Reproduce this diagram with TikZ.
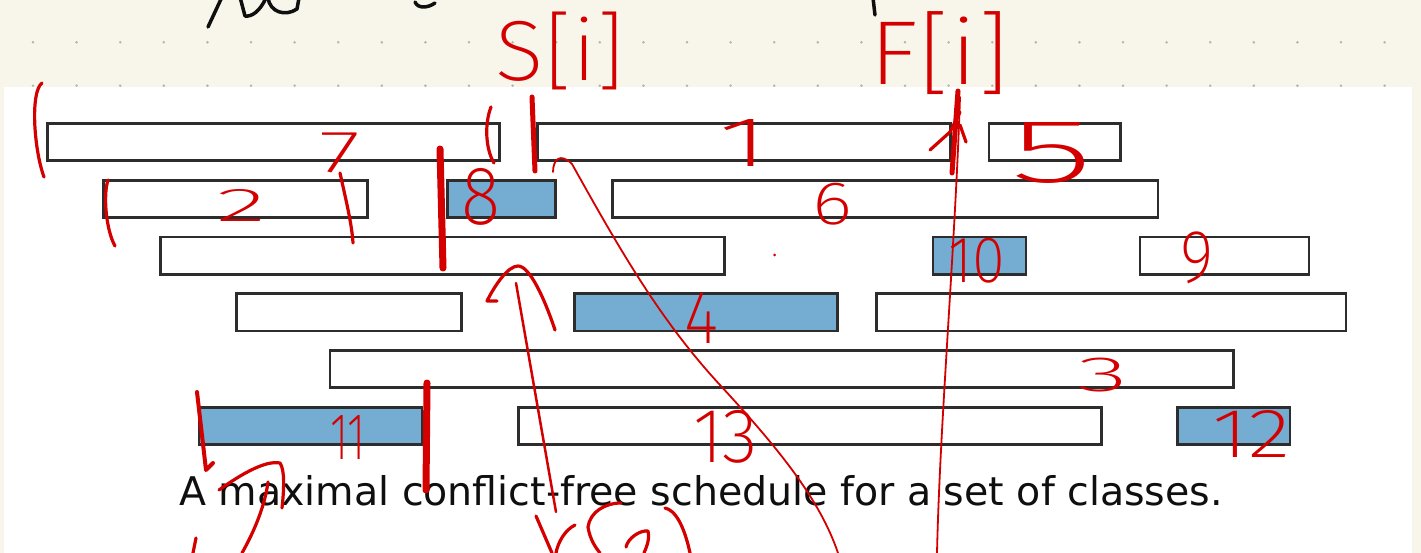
\documentclass[tikz,border=0pt]{standalone}
\usepackage{fontspec}
\setmainfont{DejaVu Sans}
\newfontfamily\hwfont{Fira Sans ExtraLight}
\definecolor{paper}{RGB}{248,246,234}
\definecolor{griddot}{RGB}{180,180,172}
\definecolor{barline}{RGB}{45,45,45}
\definecolor{barblue}{RGB}{116,172,210}
\definecolor{ink}{RGB}{212,0,0}
\definecolor{pen}{RGB}{15,15,15}
\tikzset{
  bar/.style={draw=barline, line width=2.8pt, fill=white},
  bluebar/.style={bar, fill=barblue},
  inkline/.style={draw=ink, line width=3.2pt, line cap=round, line join=round},
  inkthin/.style={draw=ink, line width=1.8pt, line cap=round, line join=round},
  inkthick/.style={draw=ink, line width=5pt, line cap=round, line join=round},
  inkfat/.style={draw=ink, line width=7pt, line cap=round, line join=round},
  penline/.style={draw=pen, line width=3.5pt, line cap=round, line join=round},
  hw/.style={inner sep=0pt, text=ink, font=\hwfont\fontsize{40}{40}\selectfont},
}
\newcommand\hwtext[3]{\resizebox*{#1pt}{#2pt}{#3}}
\begin{document}
\begin{tikzpicture}[x=1pt,y=-1pt]
\useasboundingbox (0,0) rectangle (1421,553);
\fill[paper] (0,0) rectangle (1421,553);
\foreach \r in {42.3,85.7}{\foreach \k in {0,...,31}{\fill[griddot] (33+43.6*\k,\r) circle (1.4pt);}}
\fill[white] (4,87) rectangle (1412,553);
% black pen fragments at the top
\draw[penline] (208,27) -- (222,-3);
\draw[penline] (240,-3) -- (245,16) .. controls (252,17) and (260,11) .. (266,-2);
\draw[penline] (268,-2) .. controls (270,12) and (285,17) .. (297,9) -- (299,-2);
\draw[penline] (415,2) .. controls (418,9) and (428,8) .. (435,3);
\draw[penline] (873,-2) -- (875,15);
% bars
\draw[bar] (47.5,123.5) rectangle (499.5,160.7);
\draw[bar] (537.6,123.5) rectangle (950.6,160.7);
\draw[bar] (989,123.5) rectangle (1120.5,160.7);
\draw[bar] (103.3,180.3) rectangle (367.8,217.5);
\draw[bluebar] (447.5,180.3) rectangle (555.6,217.5);
\draw[bar] (612.5,180.3) rectangle (1158,217.5);
\draw[bar] (160.2,237) rectangle (724.4,274.2);
\draw[bluebar] (933,237) rectangle (1026,274.2);
\draw[bar] (1140,237) rectangle (1309,274.2);
\draw[bar] (236.4,293.7) rectangle (461.4,330.9);
\draw[bluebar] (574.5,293.7) rectangle (837.5,330.9);
\draw[bar] (876.6,293.7) rectangle (1346,330.9);
\draw[bar] (330,350.4) rectangle (1233.4,387.6);
\draw[bluebar] (199,407.1) rectangle (422,444.3);
\draw[bar] (518.8,407.1) rectangle (1101.4,444.3);
\draw[bluebar] (1177.7,407.1) rectangle (1290,444.3);
% caption
\node[anchor=base west, inner sep=0pt, text=pen, font=\fontsize{39.5}{40}\selectfont] (cap) at (179,505) {A maximal conflict-free schedule for a set of classes.};
% handwritten labels
\node[hw] (si) at (560.5,51) {\hwtext{129}{78}{S[i]}};
\node[hw] (fi) at (940,53.5) {\hwtext{140}{83}{F[i]}};
\node[hw] (h7) at (339.5,153) {\hwtext{41}{40}{7}};
\node[hw] (h2) at (241,206) {\hwtext{50}{32}{2}};
\node[hw] (h8) at (480.5,196.5) {\hwtext{39}{57}{8}};
\node[hw] (h1) at (743.5,143.5) {\hwtext{51}{47}{1}};
\node[hw] (h5) at (1051.5,152.5) {\hwtext{83}{61}{5}};
\node[hw] (h6) at (832,204) {\hwtext{40}{42}{6}};
\node[hw] (h10) at (976.5,260.5) {\hwtext{57}{45}{10}};
\node[hw] (h9) at (1196.5,258) {\hwtext{33}{52}{9}};
\node[hw] (h4) at (701,317.5) {\hwtext{34}{51}{4}};
\node[hw] (h3) at (1102.5,375) {\hwtext{51}{34}{3}};
\node[hw] (h11) at (348,437) {\hwtext{36}{44}{11}};
\node[hw] (h13) at (725.5,436.5) {\hwtext{65}{53}{13}};
\node[hw] (h12) at (1251,433.5) {\hwtext{78}{47}{12}};
% red strokes: markers
\draw[inkthick] (532,97) -- (535,171);
\draw[inkthick] (958,91) -- (952,173);
\draw[inkfat] (440,149) -- (443,268);
\draw[inkfat] (427,383) -- (426,490);
\draw[inkline, line width=4pt] (197,392) -- (206,470) -- (213,463);
% brackets
\draw[inkline] (42,83) .. controls (30,92) and (34,150) .. (44,177);
\draw[inkline] (491,107) .. controls (484,125) and (486,150) .. (494,163);
\draw[inkline] (340,173) .. controls (346,200) and (352,225) .. (353,243);
\draw[inkline] (108,180) .. controls (103,195) and (106,230) .. (115,246);
\draw[inkline] (930,150) -- (950,132) -- (960,112);
\draw[inkline] (960,125) -- (966,142);
% long thin connectors
\draw[inkthin] (553,172) .. controls (553,160) and (560,152) .. (572,164) .. controls (620,250) and (660,320) .. (720,385) .. controls (780,450) and (820,500) .. (838,553);
\draw[inkthin] (960,97) .. controls (955,250) and (940,420) .. (937,553);
\draw[inkline, line width=2.5pt] (516,283) -- (556,512);
\draw[inkline] (497,301) -- (487,301) .. controls (495,285) and (508,266) .. (518,266) .. controls (530,266) and (545,300) .. (555,330);
\fill[ink] (774.5,255) circle (1.5pt);
% bottom fragments
\draw[inkline] (219,490) .. controls (240,475) and (265,460) .. (280,463) .. controls (285,470) and (284,490) .. (282,508);
\draw[inkline] (268,482) .. controls (265,505) and (255,530) .. (242,553);
\draw[inkline] (196,538) -- (193,553);
\draw[inkline] (536,516) -- (552,553);
\draw[inkline] (575,525) .. controls (565,530) and (558,542) .. (556,553);
\draw[inkline] (621,503) .. controls (605,503) and (590,512) .. (588,527) .. controls (590,540) and (596,548) .. (600,553);
\draw[inkline] (626,547) .. controls (628,538) and (640,530) .. (648,531) .. controls (650,540) and (646,548) .. (644,553);
\draw[inkline] (665,508) .. controls (675,510) and (684,525) .. (690,553);
\end{tikzpicture}
\end{document}
